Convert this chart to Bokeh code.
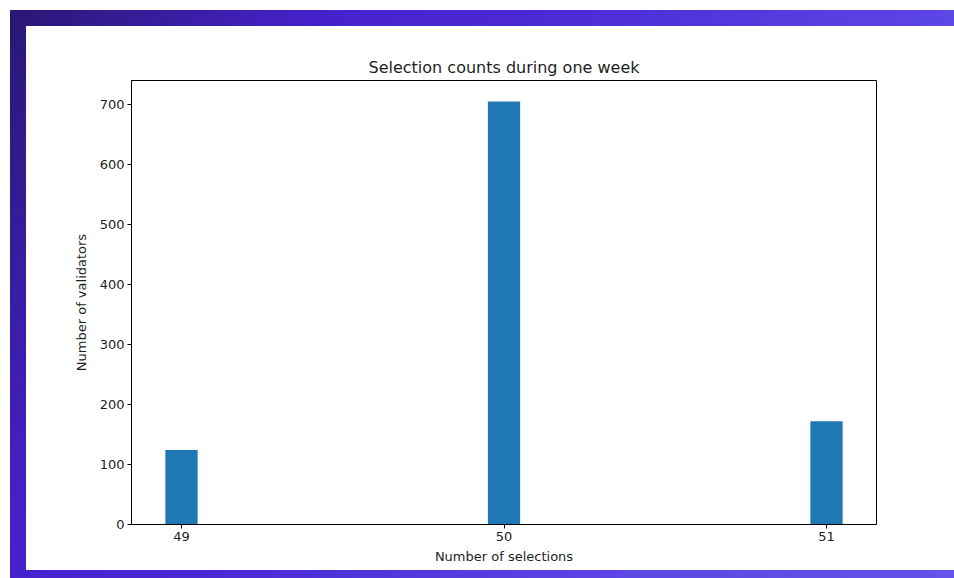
from bokeh.plotting import figure
from bokeh.models import Range1d, FixedTicker, Title
from bokeh.embed import file_html
from bokeh.resources import INLINE

# Weekly selection histogram
selections = [49, 50, 51]
validators = [124, 705, 172]
y_ticks = [0, 100, 200, 300, 400, 500, 600, 700]

FONT = "DejaVu Sans"
TEXT = "#1e1e1e"

p = figure(
    width=954, height=578,
    output_backend="svg", toolbar_location=None, tools="",
    x_range=Range1d(48.845, 51.155), y_range=Range1d(0, 740),
    min_border_left=131, min_border_right=78,
    min_border_top=80, min_border_bottom=54,
)

# purple frame with a white card, painted behind the canvas
p.styles = {
    "background": (
        "linear-gradient(#ffffff, #ffffff) 26px 26px / 928px 544px no-repeat, "
        "linear-gradient(120deg, #2a1774 0%, #4622cc 25%, #4a28d4 40%, "
        "#5c46e4 74%, #6452ea 100%) 10px 10px / 944px 568px no-repeat, #ffffff"
    )
}
p.border_fill_color = None
p.background_fill_color = "#ffffff"
p.outline_line_color = "#000000"
p.outline_line_width = 1

p.vbar(x=selections, top=validators, width=0.1, color="#1f77b4", line_color=None)

p.title = Title(text="Selection counts during one week", align="center",
                text_font=FONT, text_font_size="16px", text_font_style="normal",
                text_color=TEXT, standoff=8)

p.xgrid.visible = False
p.ygrid.visible = False

p.xaxis.ticker = FixedTicker(ticks=selections)
p.yaxis.ticker = FixedTicker(ticks=y_ticks)
p.xaxis.axis_label = "Number of selections"
p.yaxis.axis_label = "Number of validators"

for ax in (p.xaxis, p.yaxis):
    ax.axis_line_color = "#000000"
    ax.major_tick_line_color = "#000000"
    ax.major_tick_out = 4
    ax.major_tick_in = 0
    ax.minor_tick_line_color = None
    ax.major_label_text_font = FONT
    ax.major_label_text_font_size = "13px"
    ax.major_label_text_color = TEXT
    ax.axis_label_text_font = FONT
    ax.axis_label_text_font_size = "13px"
    ax.axis_label_text_font_style = "normal"
    ax.axis_label_text_color = TEXT
    ax.major_label_standoff = 3

p.xaxis.axis_label_standoff = 5
p.yaxis.axis_label_standoff = 8

open("out.html", "w").write(file_html(p, INLINE))
